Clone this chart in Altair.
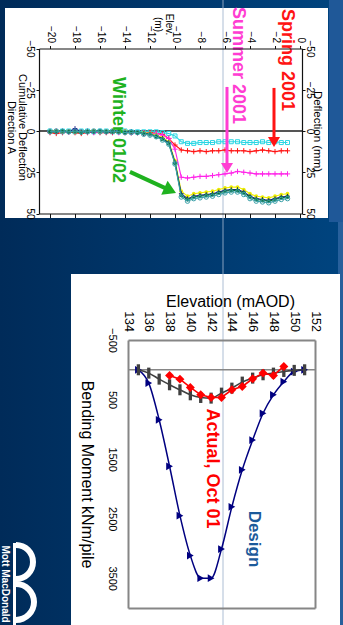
import altair as alt
import pandas as pd

FONT = "Liberation Sans"

# ============================ DATA ============================
# ---- Upper chart: inclinometer, cumulative deflection (mm) against elevation (m)
ELEV_T = [-20.0, -19.5, -19.0, -18.5, -18.0, -17.5, -17.0, -16.5, -16.0, -15.5,
          -15.0, -14.5, -14.0, -13.5, -13.0, -12.5, -12.0, -11.5, -11.0, -10.5,
          -10.0, -9.5, -9.0, -8.5, -8.0, -7.5, -7.0, -6.5, -6.0, -5.5,
          -5.0, -4.5, -4.0, -3.5, -3.0, -2.5, -2.0, -1.5, -1.0]
DEFL_CYAN = [0.0, 0.5, 0.0, 0.0, 0.5, 0.0, 0.0, 0.5, 0.0, 0.0,
             0.5, 0.5, 0.0, 0.5, 0.5, 0.5, 0.5, 0.5, 1.0, 1.5,
             3.0, 6.5, 7.5, 7.5, 7.0, 7.0, 7.0, 6.5, 6.5, 6.5,
             6.5, 7.0, 7.0, 7.0, 6.5, 7.0, 6.5, 7.0, 7.0]
DEFL_SPRING = [1.0, 1.5, 1.0, 0.5, 1.0, 1.5, 1.0, 0.5, 1.0, 1.0,
               1.0, 0.5, 1.0, 1.0, 1.0, 1.5, 1.0, 1.5, 2.0, 4.5,
               8.5, 11.5, 12.0, 12.5, 12.0, 12.5, 12.0, 12.0, 11.5, 12.0,
               12.0, 12.0, 12.5, 12.0, 11.5, 12.0, 12.5, 12.0, 12.0]
DEFL_SUMMER = [0.5, 0.0, 0.5, 0.5, 0.0, 0.5, 0.5, 1.0, 0.5, 0.5,
               0.5, 1.0, 0.5, 1.0, 1.0, 1.0, 1.5, 1.5, 2.5, 4.5,
               11.0, 28.0, 28.5, 28.0, 27.5, 27.5, 27.0, 26.5, 26.0, 25.5,
               24.5, 25.0, 25.5, 26.0, 26.0, 26.0, 26.0, 26.0, 26.0]
DEFL_W_YELLOW = [0.0, 0.0, 0.5, 0.0, 0.5, 0.5, 0.0, 0.0, 0.5, 0.0,
                 0.5, 0.5, 0.0, 0.5, 1.0, 1.0, 1.5, 2.5, 4.0, 6.5,
                 18.0, 36.5, 39.5, 38.0, 37.5, 37.0, 36.5, 35.5, 34.5, 34.0,
                 34.0, 35.5, 38.0, 39.5, 40.0, 40.5, 39.5, 38.5, 38.0]
DEFL_W_NAVY = [0.0, 0.5, 0.0, 0.5, -1.5, 0.5, 0.0, 0.5, 0.0, 0.5,
               0.5, 0.0, 0.5, 0.5, 1.0, 1.5, 2.0, 3.0, 4.5, 7.0,
               19.0, 38.0, 41.0, 39.5, 39.0, 38.5, 38.0, 37.0, 36.0, 35.5,
               35.5, 37.0, 39.5, 41.0, 41.5, 42.0, 41.0, 40.0, 39.5]
DEFL_W_GREEN = [0.5, 0.5, 0.0, 0.5, 0.5, 1.0, 0.5, 0.5, 0.0, 0.5,
                0.5, 0.5, 1.0, 0.5, 1.0, 1.5, 2.0, 3.5, 5.0, 7.5,
                19.5, 39.0, 41.5, 40.0, 39.5, 39.0, 38.5, 37.5, 36.5, 36.0,
                36.0, 37.5, 40.0, 41.5, 42.0, 42.5, 41.5, 40.5, 40.0]
DEFL_W_TEAL = [0.5, 0.0, 0.5, 0.5, 0.0, 0.5, 0.5, 0.0, 0.5, 0.5,
               0.0, 0.5, 1.0, 1.0, 1.0, 2.0, 2.5, 3.5, 5.5, 8.0,
               20.0, 40.0, 42.5, 41.0, 40.5, 40.0, 39.5, 38.5, 37.5, 37.0,
               37.0, 38.5, 41.0, 42.5, 43.0, 43.5, 42.5, 41.5, 41.0]

TOP_X_TICKS = [-20, -18, -16, -14, -12, -10, -8, -6, -4, -2, 0]
TOP_Y_TICKS = [-50, -25, 0, 25, 50]
TOP_X_DOMAIN = [-20.88, 0.16]
TOP_Y_DOMAIN = [-50, 50]

TOP_LABELS = ["Spring 2001", "Summer 2001", "Winter 01/02"]
TOP_LABEL_ELEV = [-1.04, -4.96, -14.6]
TOP_LABEL_DEFL = [-43.0, -39.7, -0.6]

ARROW_FROM_ELEV = [-2.08, -5.84, -13.6]
ARROW_FROM_DEFL = [-26.1, -26.7, 24.8]
ARROW_SHAFT_ELEV = [-2.08, -5.84, -10.65]
ARROW_SHAFT_DEFL = [4.8, 20.6, 35.1]
ARROW_TIP_ELEV = [-2.08, -5.84, -9.92]
ARROW_TIP_DEFL = [9.7, 25.5, 37.6]

# ---- Lower chart: bending moment (kNm/pile) against elevation (mAOD)
ELEV_B = [135, 136, 137, 138, 139, 140, 141, 142, 143, 144, 145, 146, 147, 148, 149, 150, 151]
BM_DESIGN = [0, 224, 840, 1620, 2450, 3120, 3500, 3500, 3010, 2300, 1680, 1180, 730, 420, 200, 30, 0]
BM_PRED = [0, 56, 157, 252, 336, 420, 465, 476, 392, 308, 207, 140, 84, 56, 28, 10, 0]
ELEV_ACT = [138, 139, 140, 141, 142, 143, 144, 145, 146, 147, 148, 149]
BM_ACTUAL = [95, 157, 297, 420, 465, 465, 336, 280, 151, 56, 95, -56]

BOT_X_TICKS = [134, 136, 138, 140, 142, 144, 146, 148, 150, 152]
BOT_Y_TICKS = [-500, 500, 1500, 2500, 3500]
BOT_X_DOMAIN = [134, 152]
BOT_Y_DOMAIN = [-500, 4000]

BOT_LABELS = ["Actual, Oct 01", "Design"]
BOT_LABEL_ELEV = [142.04, 146.1]
BOT_LABEL_BM = [1658, 2841]

# ============================ LAYOUT / STYLE ============================
W, H = 343, 625
TOP_XR = [39, 302]
TOP_YR = [48.5, 213.5]
BOT_XR = [128, 315]
BOT_YR = [340, 608]

PLUS = "M-1,0L1,0M0,-1L0,1"
BAR = "M-0.3,-1L0.3,-1L0.3,1L-0.3,1Z"
HEAD = "M0,0L-1.15,-1.9L1.15,-1.9Z"

TOP_STYLE = [
    (DEFL_CYAN, "#2bd6e3", "square", False, 16),
    (DEFL_SPRING, "#ff1414", PLUS, False, 28),
    (DEFL_SUMMER, "#ff24e8", PLUS, False, 28),
    (DEFL_W_YELLOW, "#eded00", "circle", True, 14),
    (DEFL_W_NAVY, "#1c1c8c", PLUS, False, 22),
    (DEFL_W_GREEN, "#0c6e3c", "circle", True, 16),
    (DEFL_W_TEAL, "#3aa0a8", "circle", False, 20),
]
TOP_LABEL_COLORS = ["#ff1414", "#ff3dd2", "#1fb21f"]
ARROW_COLORS = ["#ff1414", "#ff3dd2", "#1fb21f"]
ARROW_WIDTHS = [3, 3, 4]
ARROW_HEAD_SIZES = [110, 110, 180]
ARROW_ANGLES = [0, 0, 294.5]


def ax(**kw):
    base = dict(grid=False, labelFont=FONT, titleFont=FONT, labelColor="#000000",
                titleColor="#000000", labelFlush=False, labelOverlap=False,
                titleFontWeight="normal", zindex=1)
    base.update(kw)
    return alt.Axis(**base)


# ---- upper chart axes
AX_T_TOP = ax(orient="top", offset=-TOP_YR[0], values=TOP_X_TICKS, labelAngle=90,
              labelAlign="right", labelBaseline="middle", labelFontSize=10, labelPadding=3,
              tickSize=3, tickColor="#111111", domainColor="#111111", domainWidth=1.2,
              title=["Elev.", "(m)"], titleAngle=90, titleAlign="center",
              titleBaseline="alphabetic", titleX=165, titleY=-24.5, titleFontSize=10,
              titleLineHeight=11)
AX_T_LEFT = ax(orient="left", offset=-TOP_XR[0], values=TOP_Y_TICKS, labelAngle=90,
               labelAlign="center", labelBaseline="top", labelFontSize=10, labelPadding=2,
               tickSize=3, tickColor="#111111", domainColor="#111111", domainWidth=1.2,
               title=["Cumulative Deflection", "Direction A"], titleAngle=90,
               titleAlign="center", titleBaseline="alphabetic", titleX=-21, titleY=127,
               titleFontSize=11, titleLineHeight=10.5)
AX_T_BOTTOM = ax(orient="bottom", offset=-(H - TOP_YR[1]), values=TOP_X_TICKS, labels=False,
                 tickSize=4, tickColor="#111111", domainColor="#111111", domainWidth=1.2,
                 title=None)
AX_T_RIGHT = ax(orient="right", offset=-(W - TOP_XR[1]), values=TOP_Y_TICKS, labelAngle=90,
                labelAlign="center", labelBaseline="alphabetic", labelFontSize=10,
                labelPadding=1, tickSize=3, tickColor="#111111", domainColor="#111111",
                domainWidth=1.2, title="Deflection (mm)", titleAngle=90, titleAlign="center",
                titleBaseline="alphabetic", titleX=11, titleY=131, titleFontSize=11.5)

# ---- lower chart axes
AX_B_TOP = ax(orient="top", offset=-BOT_YR[0], values=BOT_X_TICKS, labelAngle=90,
              labelAlign="right", labelBaseline="middle", labelFontSize=12.5, ticks=False,
              labelPadding=8.5, domainColor="#868686", domainWidth=2,
              title="Elevation (mAOD)", titleAngle=0, titleAlign="center",
              titleBaseline="alphabetic", titleX=230, titleY=-33.3, titleFontSize=16)
AX_B_LEFT = ax(orient="left", offset=-BOT_XR[0], values=BOT_Y_TICKS, format="d",
               labelAngle=90, labelAlign="center", labelBaseline="top", labelFontSize=11,
               ticks=False, labelPadding=11, domainColor="#868686", domainWidth=2,
               title="Bending Moment kNm/pile", titleAngle=90, titleAlign="center",
               titleBaseline="alphabetic", titleX=-46.5, titleY=474, titleFontSize=16)
AX_B_BOTTOM = ax(orient="bottom", offset=-(H - BOT_YR[1]), labels=False, ticks=False,
                 domainColor="#868686", domainWidth=2, title=None)
AX_B_RIGHT = ax(orient="right", offset=-(W - BOT_XR[1]), labels=False, ticks=False,
                domainColor="#868686", domainWidth=2, title=None)


def xt(field="elev", axis=None):
    return alt.X(f"{field}:Q", axis=axis,
                 scale=alt.Scale(domain=TOP_X_DOMAIN, range=TOP_XR, nice=False, zero=False))


def yt(field="defl", axis=None):
    return alt.Y(f"{field}:Q", axis=axis,
                 scale=alt.Scale(domain=TOP_Y_DOMAIN, range=TOP_YR, nice=False, zero=False))


def xb(field="elev", axis=None):
    return alt.X(f"{field}:Q", axis=axis,
                 scale=alt.Scale(domain=BOT_X_DOMAIN, range=BOT_XR, nice=False, zero=False))


def yb(field="bm", axis=None):
    return alt.Y(f"{field}:Q", axis=axis,
                 scale=alt.Scale(domain=BOT_Y_DOMAIN, range=BOT_YR, nice=False, zero=False))


ONE = pd.DataFrame({"k": [0]})

# ============================ DECORATION (slide) ============================
bg = alt.Chart(ONE).mark_rect(
    color=alt.Gradient(gradient="linear", x1=0, x2=1, y1=0, y2=0,
                       stops=[alt.GradientStop(color="#002b59", offset=0),
                              alt.GradientStop(color="#003a70", offset=0.6),
                              alt.GradientStop(color="#00447f", offset=1)])
).encode(x=alt.value(0), x2=alt.value(W), y=alt.value(0), y2=alt.value(H))

side_top = alt.Chart(ONE).mark_rect(color="#1f5898").encode(
    x=alt.value(329), x2=alt.value(W), y=alt.value(0), y2=alt.value(222))
side_bot = alt.Chart(ONE).mark_rect(color="#28609c").encode(
    x=alt.value(338), x2=alt.value(W), y=alt.value(222), y2=alt.value(H))

panel_top = alt.Chart(ONE).mark_rect(color="#ffffff").encode(
    x=alt.value(5), x2=alt.value(328), y=alt.value(8), y2=alt.value(218))
panel_bot = alt.Chart(ONE).mark_rect(color="#ffffff").encode(
    x=alt.value(71), x2=alt.value(340), y=alt.value(274), y2=alt.value(H))

slide_line = alt.Chart(ONE).mark_rule(color="#9fb3cc", strokeWidth=1, opacity=0.85).encode(
    x=alt.value(223), y=alt.value(0), y2=alt.value(H))

logo_bar = alt.Chart(ONE).mark_rect(color="#ffffff").encode(
    x=alt.value(13), x2=alt.value(16), y=alt.value(543), y2=alt.value(H))
logo_arc1 = alt.Chart(ONE).mark_arc(color="#ffffff", theta=0, theta2=3.1416,
                                    radius=20, radius2=14).encode(
    x=alt.value(16), y=alt.value(562))
logo_arc2 = alt.Chart(ONE).mark_arc(color="#ffffff", theta=0, theta2=3.1416,
                                    radius=21, radius2=15).encode(
    x=alt.value(16), y=alt.value(602))
logo_text = alt.Chart(ONE).mark_text(text="Mott MacDonald", angle=90, font=FONT,
                                     fontSize=10, fontWeight="bold", color="#ffffff",
                                     align="center", baseline="middle").encode(
    x=alt.value(4.5), y=alt.value(584))

# ============================ UPPER CHART ============================
zero_t = alt.Chart(pd.DataFrame({"elev": [TOP_X_DOMAIN[0]], "elev2": [TOP_X_DOMAIN[1]],
                                 "defl": [0]})).mark_rule(
    color="#555555", strokeWidth=2.2).encode(
    x=xt(axis=AX_T_TOP), x2="elev2:Q", y=yt(axis=AX_T_LEFT))

top_layers = [zero_t]
for i, (vals, col, shp, filled, sz) in enumerate(TOP_STYLE):
    df = pd.DataFrame({"elev": ELEV_T, "defl": vals})
    line = alt.Chart(df).mark_line(color=col, strokeWidth=1.1).encode(
        x=xt(axis=AX_T_BOTTOM if i == 0 else None),
        y=yt(axis=AX_T_RIGHT if i == 0 else None))
    pts = alt.Chart(df).mark_point(shape=shp, filled=filled, color=col, size=sz,
                                   strokeWidth=1, opacity=1).encode(x=xt(), y=yt())
    top_layers += [line, pts]

df_tl = pd.DataFrame({"label": TOP_LABELS, "elev": TOP_LABEL_ELEV, "defl": TOP_LABEL_DEFL,
                      "color": TOP_LABEL_COLORS})
top_text = alt.Chart(df_tl).mark_text(angle=90, font=FONT, fontSize=18, fontWeight="bold",
                                      align="center", baseline="middle").encode(
    x=xt(), y=yt(), text="label:N", color=alt.Color("color:N", scale=None))

df_ar = pd.DataFrame({"elev": ARROW_FROM_ELEV, "defl": ARROW_FROM_DEFL,
                      "elev2": ARROW_SHAFT_ELEV, "defl2": ARROW_SHAFT_DEFL,
                      "color": ARROW_COLORS, "w": ARROW_WIDTHS})
shafts = alt.Chart(df_ar).mark_rule().encode(
    x=xt(), y=yt(), x2="elev2:Q", y2="defl2:Q",
    color=alt.Color("color:N", scale=None),
    strokeWidth=alt.StrokeWidth("w:Q", scale=None, legend=None))
df_hd = pd.DataFrame({"elev": ARROW_TIP_ELEV, "defl": ARROW_TIP_DEFL, "color": ARROW_COLORS,
                      "s": ARROW_HEAD_SIZES, "ang": ARROW_ANGLES})
heads = alt.Chart(df_hd).mark_point(shape=HEAD, filled=True, opacity=1, strokeWidth=0).encode(
    x=xt(), y=yt(), color=alt.Color("color:N", scale=None),
    size=alt.Size("s:Q", scale=None, legend=None), angle=alt.Angle("ang:Q", scale=None))

top_chart = alt.layer(*top_layers, top_text, shafts, heads)

# ============================ LOWER CHART ============================
zero_b = alt.Chart(pd.DataFrame({"elev": [BOT_X_DOMAIN[0]], "elev2": [BOT_X_DOMAIN[1]],
                                 "bm": [0]})).mark_rule(
    color="#868686", strokeWidth=1.5).encode(
    x=xb(axis=AX_B_TOP), x2="elev2:Q", y=yb(axis=AX_B_LEFT))

df_des = pd.DataFrame({"elev": ELEV_B, "bm": BM_DESIGN})
df_pred = pd.DataFrame({"elev": ELEV_B, "bm": BM_PRED})
df_act = pd.DataFrame({"elev": ELEV_ACT, "bm": BM_ACTUAL})

des_line = alt.Chart(df_des).mark_line(color="#000080", strokeWidth=1.5,
                                       interpolate="monotone").encode(
    x=xb(axis=AX_B_BOTTOM), y=yb(axis=AX_B_RIGHT))
des_pts = alt.Chart(df_des).mark_point(shape="triangle-right", filled=True, color="#000080",
                                       size=60, opacity=1).encode(x=xb(), y=yb())
pred_line = alt.Chart(df_pred).mark_line(color="#404040", strokeWidth=1.6,
                                         interpolate="monotone").encode(x=xb(), y=yb())
pred_pts = alt.Chart(df_pred).mark_point(shape=BAR, filled=True, color="#404040",
                                         size=121, opacity=1).encode(x=xb(), y=yb())
act_line = alt.Chart(df_act).mark_line(color="#ff0000", strokeWidth=1.6).encode(
    x=xb(), y=yb())
act_pts = alt.Chart(df_act).mark_point(shape="diamond", filled=True, color="#ff0000",
                                       size=80, opacity=1).encode(x=xb(), y=yb())

df_bl = pd.DataFrame({"label": BOT_LABELS, "elev": BOT_LABEL_ELEV, "bm": BOT_LABEL_BM,
                      "color": ["#ff0000", "#1c5a9a"], "fs": [18, 17]})
bot_text = alt.Chart(df_bl).mark_text(angle=90, font=FONT, fontWeight="bold",
                                      align="center", baseline="middle").encode(
    x=xb(), y=yb(), text="label:N", color=alt.Color("color:N", scale=None),
    size=alt.Size("fs:Q", scale=None, legend=None))

bottom_chart = alt.layer(zero_b, des_line, des_pts, pred_line, pred_pts, act_line, act_pts,
                         bot_text)

# ============================ ASSEMBLY ============================
chart = alt.layer(
    bg, side_top, side_bot, panel_top, panel_bot, slide_line,
    top_chart, bottom_chart,
    logo_bar, logo_arc1, logo_arc2, logo_text,
).resolve_scale(x="independent", y="independent").properties(
    width=W, height=H, padding=0, background="#003468",
    autosize=alt.AutoSizeParams(type="none"),
).configure_view(stroke=None)

chart.save("out.html", embed_options={"renderer": "svg", "actions": False})
